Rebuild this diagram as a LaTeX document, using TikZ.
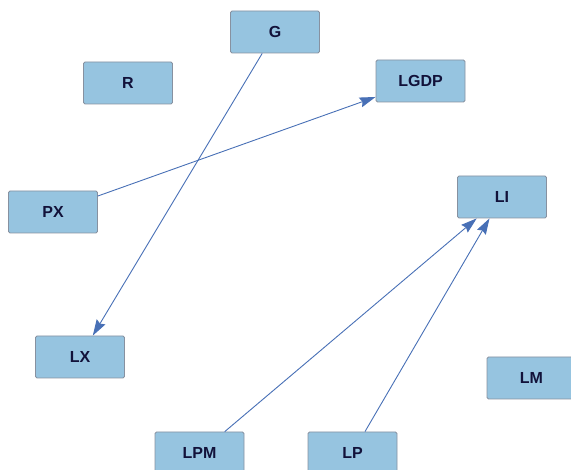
\documentclass[tikz,border=0pt]{standalone}
\usepackage{fontspec}
\setmainfont{Liberation Sans}
\usetikzlibrary{arrows.meta}
\definecolor{boxfill}{RGB}{150,196,224}
\definecolor{boxline}{RGB}{135,145,160}
\definecolor{edgecol}{RGB}{72,112,182}
\definecolor{txt}{RGB}{18,18,58}
\begin{document}
\begin{tikzpicture}[x=1pt,y=-1pt,
  box/.style={draw=boxline, fill=boxfill, rounded corners=1.5pt,
    minimum width=89pt, minimum height=42pt, inner sep=0pt,
    font=\fontsize{16}{19}\selectfont\bfseries, text=txt, line width=0.8pt},
  link/.style={draw=edgecol, line width=0.9pt,
    -{Stealth[length=16pt,width=10pt,inset=2pt]}}]
\useasboundingbox (0,0) rectangle (571,470);
\node[box] (G)    at (275,32)  {G};
\node[box] (R)    at (128,83)  {R};
\node[box] (LGDP) at (420.5,81) {LGDP};
\node[box] (PX)   at (53,212)  {PX};
\node[box] (LI)   at (502,197) {LI};
\node[box] (LX)   at (80,357)  {LX};
\node[box] (LM)   at (531.5,378) {LM};
\node[box] (LPM)  at (199.5,453) {LPM};
\node[box] (LP)   at (352.5,453) {LP};
\draw[link] (G) -- (LX);
\draw[link] (PX) -- (LGDP);
\draw[link] (LPM) -- (LI);
\draw[link] (LP) -- (LI);
\end{tikzpicture}
\end{document}
